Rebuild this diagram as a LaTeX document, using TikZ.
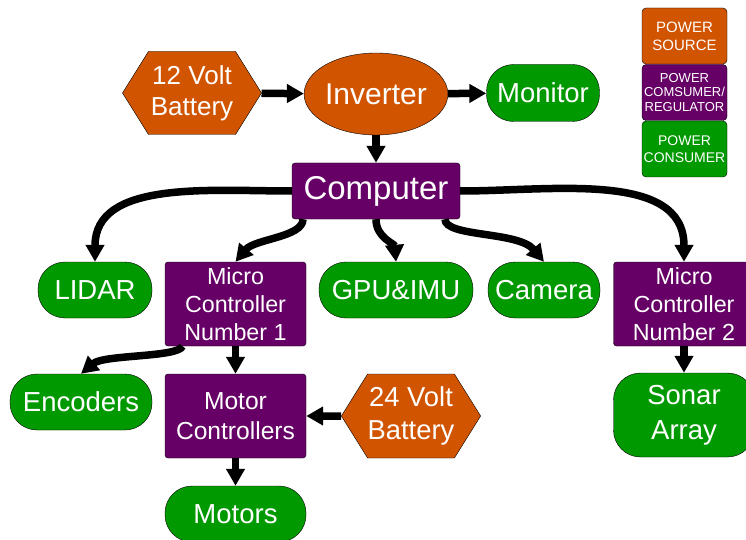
\documentclass[tikz,border=0pt]{standalone}
\usepackage{fontspec}
\setmainfont{Liberation Sans}
\usetikzlibrary{shapes.geometric, shapes.symbols, arrows.meta}

\definecolor{srcorange}{RGB}{209,84,0}
\definecolor{regpurple}{RGB}{102,0,102}
\definecolor{usegreen}{RGB}{0,153,0}

\begin{document}
\begin{tikzpicture}[x=1pt, y=1pt,
    source/.style={signal, signal to=east and west, signal pointer angle=116, draw, fill=srcorange, text=white, align=center, inner sep=0pt, minimum width=139pt, minimum height=83pt, font=\fontsize{26}{31}\selectfont},
    regulator/.style={rectangle, draw, fill=regpurple, text=white, align=center, rounded corners=3pt, inner sep=0pt, minimum width=141pt, minimum height=84pt, font=\fontsize{23.3}{28}\selectfont},
    consumer/.style={rectangle, draw, fill=usegreen, text=white, align=center, rounded corners=27pt, inner sep=0pt, minimum height=56pt, font=\fontsize{27.5}{33}\selectfont},
    legendbox/.style={rectangle, draw, text=white, align=center, rounded corners=4pt, inner sep=0pt, minimum width=85pt, minimum height=56pt},
    line/.style={draw, -{Triangle[length=17pt, width=18pt]}, line width=7.5pt}]
    \useasboundingbox (0,0) rectangle (746,539);

    % power chain at the top
    \node [source] (bat12) at (192,446) {12 Volt\\Battery};
    \node [ellipse, draw, fill=srcorange, text=white, inner sep=0pt, minimum width=139pt, minimum height=82pt, font=\fontsize{30}{36}\selectfont] (inverter) at (376,445) {Inverter};
    \node [consumer, minimum width=113pt, minimum height=57pt] (monitor) at (543,446) {Monitor};
    \node [regulator, minimum width=168pt, minimum height=56pt, font=\fontsize{33}{38}\selectfont] (computer) at (376,348) {Computer};

    % legend
    \node [legendbox, fill=srcorange, font=\fontsize{15}{17.7}\selectfont] (legsource) at (684.5,503) {POWER\\SOURCE};
    \node [legendbox, fill=regpurple, font=\fontsize{13}{14.7}\selectfont] (legregulator) at (684.5,446.5) {POWER\\COMSUMER/\\REGULATOR};
    \node [legendbox, fill=usegreen, font=\fontsize{14}{16.7}\selectfont] (legconsumer) at (684.5,390) {POWER\\CONSUMER};

    % second row
    \node [consumer, minimum width=114pt] (lidar) at (95,249) {LIDAR};
    \node [regulator] (mc1) at (235.5,235) {Micro\\Controller\\Number 1};
    \node [consumer, minimum width=154pt] (gpu) at (396,249) {GPU\&IMU};
    \node [consumer, minimum width=112pt] (camera) at (544,249) {Camera};
    \node [regulator] (mc2) at (684,235) {Micro\\Controller\\Number 2};

    % lower rows
    \node [consumer, minimum width=142pt] (encoders) at (81,137) {Encoders};
    \node [regulator, font=\fontsize{24.6}{30}\selectfont] (motorctrl) at (235.5,123) {Motor\\Controllers};
    \node [source, minimum width=138pt, minimum height=84pt, font=\fontsize{27.4}{33}\selectfont] (bat24) at (411,123) {24 Volt\\Battery};
    \node [consumer, minimum width=141pt] (motors) at (235.5,25) {Motors};
    \node [consumer, minimum width=141pt, minimum height=84pt, font=\fontsize{27.5}{35}\selectfont] (sonar) at (684,124) {Sonar\\Array};

    \path [line] (bat12) -- (inverter);
    \path [line] (inverter) -- (monitor);
    \path [line] (inverter) -- (computer);
    \path [line] (computer.west) to[out=180, in=90] (lidar.north);
    \path [line] ([xshift=-73pt]computer.south) to[out=-90, in=50, out distance=18pt, in distance=30pt] (mc1.north);
    \path [line] (computer.south) to[out=-90, in=95] (gpu.north);
    \path [line] ([xshift=69pt]computer.south) to[out=-90, in=130, out distance=18pt, in distance=40pt] (camera.north);
    \path [line] (computer.east) to[out=0, in=90] (mc2.north);
    \path [line] ([xshift=-53pt]mc1.south) to[out=-110, in=40, out distance=12pt, in distance=30pt] (encoders.north);
    \path [line] (mc1) -- (motorctrl);
    \path [line] (bat24) -- (motorctrl);
    \path [line] (motorctrl) -- (motors);
    \path [line] (mc2) -- (sonar);
\end{tikzpicture}
\end{document}
